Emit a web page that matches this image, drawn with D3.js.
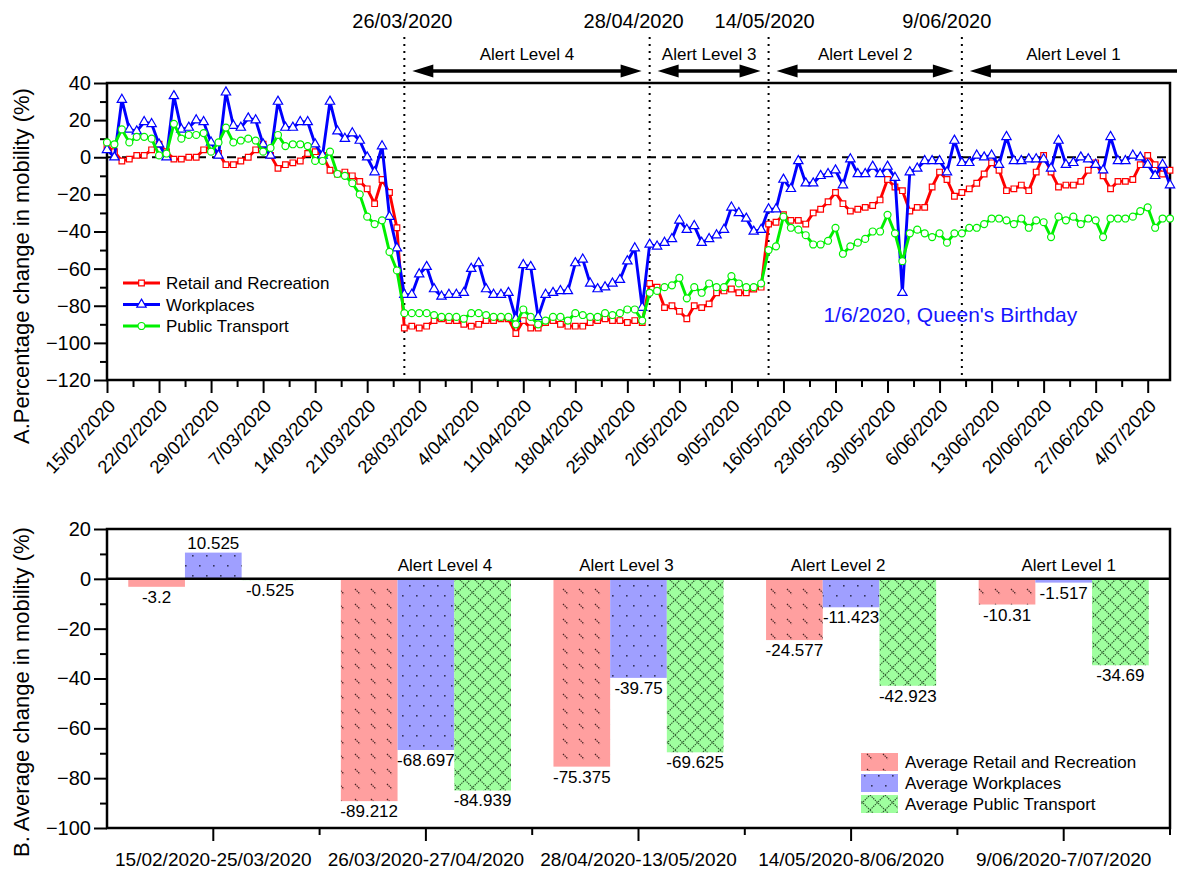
<!DOCTYPE html>
<html>
<head>
<meta charset="utf-8">
<script src="https://cdn.jsdelivr.net/npm/d3@7"></script>
<style>
  body { margin: 0; background: #fff; }
  svg { font-family: Arial, "Liberation Sans", sans-serif; }
</style>
</head>
<body>
<svg id="chart" width="1177" height="873"></svg>
<script>
// ---- data ----
var startDay = "15/02/2020";
var endDay = "7/07/2020";

var retail = [
  6, 3, -2, -1, 1, 1, 4, 7, 3, -1,
  -1, 0, 0, 4, 6, 2, -4, -4, -2, 0,
  4, 7, 1, -6, -4, -3, -2, 2, 3, 1,
  -7, -9, -8, -10, -13, -17, -25, -12, -19, -38,
  -92, -91, -92, -91, -88, -87, -88, -88, -90, -91,
  -90, -88, -88, -87, -87, -95, -88, -92, -92, -89,
  -88, -90, -91, -91, -91, -89, -88, -87, -88, -88,
  -89, -88, -89, -68, -70, -81, -80, -83, -87, -80,
  -81, -79, -73, -72, -71, -73, -73, -71, -70, -36,
  -35, -31, -34, -34, -36, -30, -28, -24, -19, -25,
  -29, -28, -27, -26, -23, -12, -16, -18, -29, -27,
  -27, -16, -8, -12, -21, -19, -17, -14, -9, -3,
  -7, -18, -17, -15, -18, -8, 1, -8, -16, -15,
  -15, -13, -7, -3, -10, -17, -13, -13, -12, -4,
  1, -4, -9, -7
];
var workplaces = [
  4, 0, 31, 15, 14, 19, 18, 7, 0, 33,
  15, 16, 20, 19, 8, 1, 35, 17, 16, 21,
  20, 7, 1, 30, 16, 16, 19, 19, 7, 1,
  30, 14, 10, 13, 9, 0, -8, 6, -32, -49,
  -74, -74, -63, -59, -71, -75, -74, -74, -73, -60,
  -57, -71, -74, -74, -73, -87, -58, -59, -86, -74,
  -73, -72, -72, -57, -55, -68, -71, -70, -68, -66,
  -56, -49, -81, -47, -48, -46, -44, -34, -39, -37,
  -46, -44, -42, -39, -27, -30, -33, -40, -39, -28,
  -28, -12, -17, -2, -14, -14, -10, -9, -7, -15,
  -1, -9, -9, -5, -9, -5, -11, -73, -8, -6,
  -2, -2, -2, -8, 9, -3, -3, 1, 0, 1,
  -4, 11, -2, -2, -1, -1, -1, -6, 9, -4,
  -3, 0, -1, -4, -7, 11, -2, -2, 1, 0,
  -4, -10, -4, -15
];
var transport = [
  8, 7, 15, 8, 11, 11, 10, 1, 2, 18,
  10, 12, 12, 13, 3, 8, 16, 8, 9, 10,
  9, 3, 5, 12, 6, 7, 7, 6, -2, -2,
  3, -9, -10, -14, -20, -32, -36, -34, -51, -61,
  -84, -84, -84, -84, -85, -86, -86, -86, -87, -84,
  -84, -85, -86, -86, -86, -90, -82, -86, -90, -88,
  -86, -86, -88, -84, -85, -86, -86, -84, -85, -84,
  -82, -82, -88, -73, -72, -70, -69, -65, -76, -70,
  -73, -68, -70, -70, -64, -68, -70, -70, -68, -50,
  -48, -32, -38, -39, -42, -47, -47, -45, -38, -52,
  -48, -46, -44, -40, -40, -31, -41, -56, -41, -39,
  -41, -43, -41, -46, -41, -41, -38, -38, -36, -33,
  -33, -34, -36, -33, -38, -34, -35, -43, -32, -34,
  -32, -36, -33, -34, -43, -33, -33, -33, -32, -29,
  -27, -38, -33, -33
];
var seriesNames = ["Retail and Recreation", "Workplaces", "Public Transport"];
var seriesColors = ["#ff0000", "#0000ff", "#00f000"];

var phaseDates = ["26/03/2020", "28/04/2020", "14/05/2020", "9/06/2020"];
var phaseLabels = ["Alert Level 4", "Alert Level 3", "Alert Level 2", "Alert Level 1"];
var holidayDay = "1/06/2020";
var holidayText = "1/6/2020, Queen's Birthday";

var periods = ["15/02/2020-25/03/2020", "26/03/2020-27/04/2020", "28/04/2020-13/05/2020",
               "14/05/2020-8/06/2020", "9/06/2020-7/07/2020"];
var periodAlerts = ["", "Alert Level 4", "Alert Level 3", "Alert Level 2", "Alert Level 1"];
var avgRetail = [-3.2, -89.212, -75.375, -24.577, -10.31];
var avgWork = [10.525, -68.697, -39.75, -11.423, -1.517];
var avgTransport = [-0.525, -84.939, -69.625, -42.923, -34.69];
var avgNames = ["Average Retail and Recreation", "Average Workplaces", "Average Public Transport"];

// ---- setup ----
var svg = d3.select("#chart");
var W = 1177;
var parse = d3.timeParse("%d/%m/%Y");
var fmt = d3.timeFormat("%-d/%m/%Y");
var t0 = parse(startDay), t1 = parse(endDay);

var left = 107, right = 1170;
var top1 = 83, bottom1 = 380;
var top2 = 529, bottom2 = 828;

var x = d3.scaleTime().domain([t0, t1]).range([left, right]);
var y = d3.scaleLinear().domain([-120, 40]).range([bottom1, top1]);

// patterns for the bar chart
var defs = svg.append("defs");
var pr = defs.append("pattern").attr("id", "patRed").attr("patternUnits", "userSpaceOnUse")
  .attr("width", 16).attr("height", 15);
pr.append("rect").attr("width", 16).attr("height", 15).attr("fill", "#ff9f9f");
pr.append("path").attr("d", "M3,4 L8,9").attr("stroke", "#4a2424").attr("stroke-width", 1.3)
  .attr("stroke-dasharray", "1.4,0.9");

var pb = defs.append("pattern").attr("id", "patBlue").attr("patternUnits", "userSpaceOnUse")
  .attr("width", 14).attr("height", 20);
pb.append("rect").attr("width", 14).attr("height", 20).attr("fill", "#9f9fff");
pb.append("rect").attr("x", 3).attr("y", 5).attr("width", 1.6).attr("height", 1.6).attr("fill", "#34345e");
pb.append("rect").attr("x", 10).attr("y", 15).attr("width", 1.6).attr("height", 1.6).attr("fill", "#34345e");

var pg = defs.append("pattern").attr("id", "patGreen").attr("patternUnits", "userSpaceOnUse")
  .attr("width", 15).attr("height", 15);
pg.append("rect").attr("width", 15).attr("height", 15).attr("fill", "#9fff9f");
pg.append("path").attr("d", "M0,15 L15,0 M0,0 L15,15").attr("stroke", "#2e5a2e")
  .attr("stroke-width", 1.1).attr("stroke-dasharray", "1.4,0.9");

var patFills = ["url(#patRed)", "url(#patBlue)", "url(#patGreen)"];

// ---- top panel ----
var g1 = svg.append("g");

// dashed zero line
g1.append("line")
  .attr("x1", left).attr("x2", right).attr("y1", y(0)).attr("y2", y(0))
  .attr("stroke", "#000").attr("stroke-width", 2).attr("stroke-dasharray", "9,6");

// phase lines, dates and arrows
phaseDates.forEach(function(d, i) {
  var px = x(parse(d));
  g1.append("line")
    .attr("x1", px).attr("x2", px).attr("y1", 37).attr("y2", bottom1)
    .attr("stroke", "#000").attr("stroke-width", 2).attr("stroke-dasharray", "2,5");
  var dateDx = [-2, -16, -4, -15][i];
  g1.append("text")
    .attr("x", px + dateDx).attr("y", 28).attr("text-anchor", "middle")
    .style("font-size", "20px").text(d);
});

function arrowHead(xTip, dir, yy) {
  return "M" + xTip + "," + yy + " L" + (xTip + dir * 21) + "," + (yy - 6.5) +
    " L" + (xTip + dir * 21) + "," + (yy + 6.5) + " Z";
}
var arrowY = 71;
phaseLabels.forEach(function(lab, i) {
  var xa = x(parse(phaseDates[i])) + 8;
  var xb = i < phaseDates.length - 1 ? x(parse(phaseDates[i + 1])) - 8 : W + 10;
  g1.append("line")
    .attr("x1", xa + 10).attr("x2", i < 3 ? xb - 10 : xb).attr("y1", arrowY).attr("y2", arrowY)
    .attr("stroke", "#000").attr("stroke-width", 3.5);
  g1.append("path").attr("d", arrowHead(xa, 1, arrowY)).attr("fill", "#000");
  if (i < 3) g1.append("path").attr("d", arrowHead(xb, -1, arrowY)).attr("fill", "#000");
  var cx = i < 3 ? (xa + xb) / 2 : (xa + W) / 2;
  g1.append("text")
    .attr("x", cx).attr("y", 60).attr("text-anchor", "middle")
    .style("font-size", "17px").text(lab);
});

// axes
var majorDays = d3.range(0, 144, 7).map(function(i) { return d3.timeDay.offset(t0, i); });
var minorDays = d3.range(0, 140, 7).map(function(i) { return d3.timeHour.offset(t0, i * 24 + 84); });

var xAxis1 = g1.append("g").attr("transform", "translate(0," + bottom1 + ")")
  .call(d3.axisBottom(x).tickValues(majorDays).tickSize(13).tickFormat(fmt));
xAxis1.selectAll("text")
  .attr("y", 0).attr("x", 0).attr("dy", 0)
  .attr("text-anchor", "end")
  .attr("transform", "translate(9,27) rotate(-47)")
  .style("font-size", "18.5px");
g1.append("g").attr("transform", "translate(0," + bottom1 + ")")
  .call(d3.axisBottom(x).tickValues(minorDays).tickSize(7).tickFormat(""));

g1.append("g").attr("transform", "translate(" + left + ",0)")
  .call(d3.axisLeft(y).tickValues(d3.range(-120, 41, 20)).tickSize(13).tickPadding(3))
  .selectAll("text").style("font-size", "20px");
g1.append("g").attr("transform", "translate(" + left + ",0)")
  .call(d3.axisLeft(y).tickValues(d3.range(-110, 40, 20)).tickSize(7).tickFormat(""));

g1.selectAll(".domain").remove();
g1.selectAll(".tick line").attr("stroke", "#000").attr("stroke-width", 2);
g1.selectAll(".tick text").attr("fill", "#000");

// frame
g1.append("rect")
  .attr("x", left).attr("y", top1).attr("width", right - left).attr("height", bottom1 - top1)
  .attr("fill", "none").attr("stroke", "#000").attr("stroke-width", 2.5);

// series
var symbols = [d3.symbolSquare, d3.symbolTriangle, d3.symbolCircle];
var symSizes = [32, 38, 38];
var allSeries = [retail, workplaces, transport];
var line = d3.line()
  .x(function(d, i) { return x(d3.timeDay.offset(t0, i)); })
  .y(function(d) { return y(d); });

allSeries.forEach(function(vals, s) {
  var gs = g1.append("g");
  gs.append("path").datum(vals).attr("d", line)
    .attr("fill", "none").attr("stroke", seriesColors[s]).attr("stroke-width", 2.9)
    .attr("stroke-linejoin", "round");
  gs.selectAll("path.pt").data(vals).enter().append("path")
    .attr("class", "pt")
    .attr("transform", function(d, i) {
      return "translate(" + x(d3.timeDay.offset(t0, i)) + "," + y(d) + ")";
    })
    .attr("d", d3.symbol().type(symbols[s]).size(symSizes[s]))
    .attr("fill", "#fff").attr("stroke", seriesColors[s]).attr("stroke-width", 1.2);
});

// legend
seriesNames.forEach(function(name, s) {
  var ly = 283 + s * 21.5;
  var lg = g1.append("g").attr("transform", "translate(123," + ly + ")");
  lg.append("line").attr("x1", 0).attr("x2", 37).attr("y1", 0).attr("y2", 0)
    .attr("stroke", seriesColors[s]).attr("stroke-width", 2.9);
  lg.append("path").attr("transform", "translate(18.5,0)")
    .attr("d", d3.symbol().type(symbols[s]).size(symSizes[s]))
    .attr("fill", "#fff").attr("stroke", seriesColors[s]).attr("stroke-width", 1.2);
  lg.append("text").attr("x", 43).attr("y", 6).style("font-size", "17px").text(name);
});

// holiday note
g1.append("text")
  .attr("x", x(parse(holidayDay)) - 79).attr("y", 322)
  .attr("fill", "#1515ff").style("font-size", "21px").text(holidayText);

// axis title
svg.append("text")
  .attr("transform", "translate(29,266) rotate(-90)")
  .attr("text-anchor", "middle").style("font-size", "22px")
  .text("A.Percentage change in mobility (%)");

// ---- bottom panel ----
var g2 = svg.append("g");
var y2 = d3.scaleLinear().domain([-100, 20]).range([bottom2, top2]);
var xc = d3.scaleBand().domain(periods).range([left, right]).padding(0);
var xs = d3.scaleBand().domain([0, 1, 2]).range([xc.bandwidth() * 0.1, xc.bandwidth() * 0.9]).padding(0);

var avgSeries = [avgRetail, avgWork, avgTransport];

// bars
avgSeries.forEach(function(vals, s) {
  var gb = g2.append("g");
  gb.selectAll("rect").data(vals).enter().append("rect")
    .attr("x", function(d, i) { return xc(periods[i]) + xs(s); })
    .attr("y", function(d) { return Math.min(y2(d), y2(0)); })
    .attr("width", xs.bandwidth())
    .attr("height", function(d) { return Math.abs(y2(d) - y2(0)); })
    .attr("fill", patFills[s]);
  gb.selectAll("text").data(vals).enter().append("text")
    .attr("x", function(d, i) { return xc(periods[i]) + xs(s) + xs.bandwidth() / 2; })
    .attr("y", function(d) { return d < 0 ? y2(d) + 16 : y2(d) - 4; })
    .attr("text-anchor", "middle").style("font-size", "17px")
    .text(function(d) { return String(d); });
});

// alert labels in bottom panel
var alertDx = [0, 19, -12, -13, 5];
periodAlerts.forEach(function(lab, i) {
  if (!lab) return;
  g2.append("text")
    .attr("x", xc(periods[i]) + xc.bandwidth() / 2 + alertDx[i]).attr("y", 571)
    .attr("text-anchor", "middle").style("font-size", "17px").text(lab);
});

// axes
var xAxis2 = g2.append("g").attr("transform", "translate(0," + bottom2 + ")")
  .call(d3.axisBottom(xc).tickSize(13).tickSizeOuter(0));
xAxis2.selectAll("text").attr("y", 38).attr("dy", 0).style("font-size", "19px");
var bounds = periods.slice(1).map(function(p) { return xc(p); });
g2.selectAll("line.bnd").data(bounds.concat([right])).enter().append("line")
  .attr("class", "bnd")
  .attr("x1", function(d) { return d; }).attr("x2", function(d) { return d; })
  .attr("y1", bottom2).attr("y2", bottom2 + 7);

g2.append("g").attr("transform", "translate(" + left + ",0)")
  .call(d3.axisLeft(y2).tickValues(d3.range(-100, 21, 20)).tickSize(13).tickPadding(3))
  .selectAll("text").style("font-size", "20px");
g2.append("g").attr("transform", "translate(" + left + ",0)")
  .call(d3.axisLeft(y2).tickValues(d3.range(-90, 20, 20)).tickSize(7).tickFormat(""));

g2.selectAll(".domain").remove();
g2.selectAll(".tick line, line.bnd").attr("stroke", "#000").attr("stroke-width", 2);
g2.selectAll(".tick text").attr("fill", "#000");

// zero line and frame
g2.append("line")
  .attr("x1", left).attr("x2", right).attr("y1", y2(0)).attr("y2", y2(0))
  .attr("stroke", "#000").attr("stroke-width", 2.5);
g2.append("rect")
  .attr("x", left).attr("y", top2).attr("width", right - left).attr("height", bottom2 - top2)
  .attr("fill", "none").attr("stroke", "#000").attr("stroke-width", 2.5);

// legend
avgNames.forEach(function(name, s) {
  var ly = 762 + s * 21;
  g2.append("rect").attr("x", 861).attr("y", ly - 9).attr("width", 37).attr("height", 18)
    .attr("fill", patFills[s]);
  g2.append("text").attr("x", 905).attr("y", ly + 6).style("font-size", "17px").text(name);
});

svg.append("text")
  .attr("transform", "translate(29,692) rotate(-90)")
  .attr("text-anchor", "middle").style("font-size", "22px")
  .text("B. Average change in mobility (%)");
</script>
</body>
</html>
